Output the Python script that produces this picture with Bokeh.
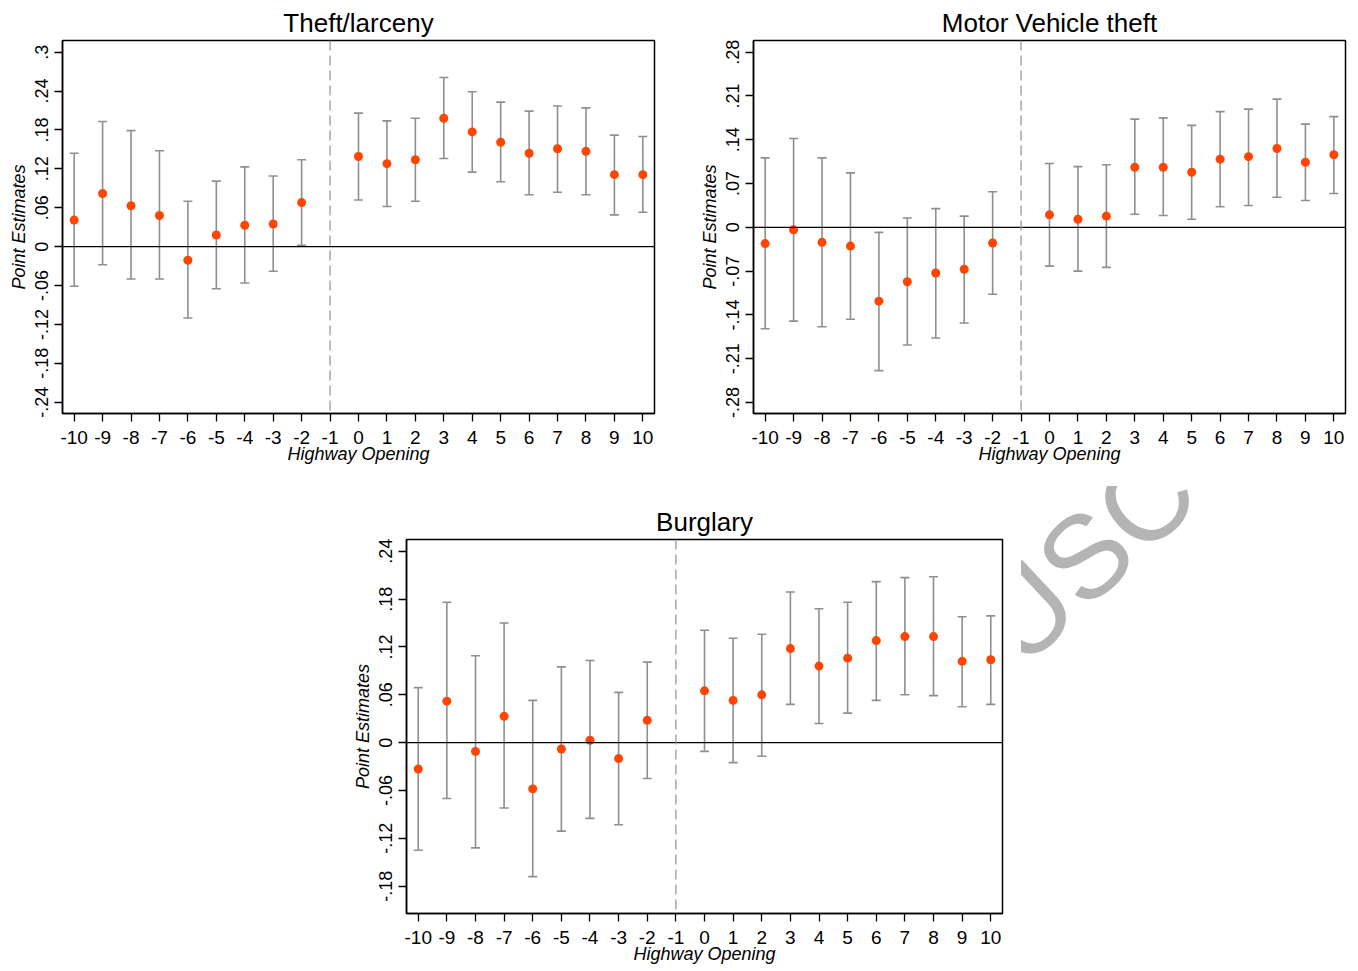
from bokeh.plotting import figure
from bokeh.models import ColumnDataSource, Whisker, TeeHead, Span, FixedTicker, Range1d, Title, Spacer, Div
from bokeh.layouts import column, row
from bokeh.embed import file_html
from bokeh.resources import INLINE

event_time = [-10, -9, -8, -7, -6, -5, -4, -3, -2, 0, 1, 2, 3, 4, 5, 6, 7, 8, 9, 10]
x_ticks = [-10, -9, -8, -7, -6, -5, -4, -3, -2, -1, 0, 1, 2, 3, 4, 5, 6, 7, 8, 9, 10]
x_labels = ["-10", "-9", "-8", "-7", "-6", "-5", "-4", "-3", "-2", "-1", "0",
            "1", "2", "3", "4", "5", "6", "7", "8", "9", "10"]

theft_est = [0.041, 0.082, 0.063, 0.048, -0.021, 0.018, 0.033, 0.035, 0.068, 0.139,
             0.128, 0.134, 0.198, 0.177, 0.161, 0.144, 0.151, 0.147, 0.111, 0.111]
theft_hi = [0.144, 0.193, 0.179, 0.148, 0.070, 0.101, 0.123, 0.109, 0.134, 0.206,
            0.194, 0.198, 0.261, 0.239, 0.223, 0.209, 0.217, 0.214, 0.172, 0.170]
theft_lo = [-0.061, -0.028, -0.050, -0.050, -0.110, -0.065, -0.056, -0.038, 0.002, 0.072,
            0.062, 0.070, 0.136, 0.115, 0.100, 0.080, 0.084, 0.080, 0.049, 0.053]
theft_yticks = [-0.24, -0.18, -0.12, -0.06, 0, 0.06, 0.12, 0.18, 0.24, 0.3]
theft_ylabels = ["-.24", "-.18", "-.12", "-.06", "0", ".06", ".12", ".18", ".24", ".3"]

mv_est = [-0.026, -0.004, -0.024, -0.030, -0.118, -0.087, -0.073, -0.067, -0.025, 0.020,
          0.013, 0.018, 0.096, 0.096, 0.088, 0.109, 0.113, 0.126, 0.104, 0.116]
mv_hi = [0.111, 0.142, 0.111, 0.087, -0.008, 0.015, 0.030, 0.018, 0.057, 0.102,
         0.097, 0.100, 0.173, 0.175, 0.163, 0.185, 0.189, 0.205, 0.165, 0.177]
mv_lo = [-0.162, -0.150, -0.159, -0.147, -0.229, -0.188, -0.177, -0.153, -0.107, -0.062,
         -0.070, -0.064, 0.021, 0.019, 0.013, 0.033, 0.035, 0.048, 0.043, 0.054]
mv_yticks = [-0.28, -0.21, -0.14, -0.07, 0, 0.07, 0.14, 0.21, 0.28]
mv_ylabels = ["-.28", "-.21", "-.14", "-.07", "0", ".07", ".14", ".21", ".28"]

burg_est = [-0.033, 0.052, -0.011, 0.033, -0.058, -0.008, 0.003, -0.020, 0.028, 0.065,
            0.053, 0.060, 0.118, 0.096, 0.106, 0.128, 0.133, 0.133, 0.102, 0.104]
burg_hi = [0.069, 0.176, 0.109, 0.150, 0.053, 0.095, 0.103, 0.063, 0.101, 0.141,
           0.131, 0.136, 0.189, 0.168, 0.176, 0.202, 0.207, 0.208, 0.158, 0.159]
burg_lo = [-0.135, -0.070, -0.132, -0.082, -0.168, -0.111, -0.095, -0.103, -0.045, -0.011,
           -0.025, -0.017, 0.048, 0.024, 0.037, 0.053, 0.060, 0.059, 0.045, 0.048]
burg_yticks = [-0.18, -0.12, -0.06, 0, 0.06, 0.12, 0.18, 0.24]
burg_ylabels = ["-.18", "-.12", "-.06", "0", ".06", ".12", ".18", ".24"]

watermark_text = "USC"

FONT = "Liberation Sans"
BAR = "#8f8f8f"
DOT = "#ff4500"


def make_panel(title, est, lo, hi, yticks, ylabels, yr, width, height, bl, br, bt, bb):
    p = figure(width=width, height=height, x_range=Range1d(-10.41, 10.41),
               y_range=Range1d(yr[0], yr[1]), output_backend="svg",
               toolbar_location=None, min_border_left=bl, min_border_right=br,
               min_border_top=bt, min_border_bottom=bb)
    p.title = Title(text=title, align="center", text_font=FONT, text_font_size="26px",
                    text_font_style="normal", text_color="black", standoff=6)
    p.grid.visible = False
    p.outline_line_color = "black"
    p.outline_line_width = 1.5
    p.background_fill_color = "white"
    p.border_fill_color = "white"

    src = ColumnDataSource(dict(x=event_time, est=est, lo=lo, hi=hi))
    p.add_layout(Span(location=0, dimension="width", line_color="black", line_width=1.3))
    p.add_layout(Span(location=-1, dimension="height", line_color="#9a9a9a",
                      line_width=1.3, line_dash="10 5"))
    w = Whisker(source=src, base="x", upper="hi", lower="lo", dimension="height",
                line_color=BAR, line_width=1.6,
                upper_head=TeeHead(size=9, line_color=BAR, line_width=1.6),
                lower_head=TeeHead(size=9, line_color=BAR, line_width=1.6))
    p.add_layout(w)
    p.scatter("x", "est", source=src, size=9, fill_color=DOT, line_color=None)

    xa = p.xaxis[0]
    xa.ticker = FixedTicker(ticks=x_ticks)
    xa.major_label_overrides = {t: l for t, l in zip(x_ticks, x_labels)}
    xa.axis_label = "Highway Opening"
    ya = p.yaxis[0]
    ya.ticker = FixedTicker(ticks=yticks)
    ya.major_label_overrides = {t: l for t, l in zip(yticks, ylabels)}
    ya.axis_label = "Point Estimates"
    ya.major_label_orientation = "vertical"
    for a in (xa, ya):
        a.axis_line_color = "black"
        a.axis_line_width = 1.5
        a.major_tick_line_color = "black"
        a.major_tick_line_width = 1.3
        a.major_tick_in = 0
        a.major_tick_out = 8
        a.minor_tick_line_color = None
        a.major_label_text_font = FONT
        a.major_label_text_color = "black"
        a.axis_label_text_font = FONT
        a.axis_label_text_font_size = "18px"
        a.axis_label_text_font_style = "italic"
        a.axis_label_text_color = "black"
    xa.major_label_text_font_size = "19px"
    ya.major_label_text_font_size = "18px"
    xa.major_label_standoff = 9
    xa.axis_label_standoff = -3
    ya.major_label_standoff = 6
    ya.axis_label_standoff = 4
    return p


p1 = make_panel("Theft/larceny", theft_est, theft_lo, theft_hi, theft_yticks, theft_ylabels,
                (-0.2574, 0.318), 691, 486, 62, 37, 40, 73)
p2 = make_panel("Motor Vehicle theft", mv_est, mv_lo, mv_hi, mv_yticks, mv_ylabels,
                (-0.2976, 0.2987), 659, 486, 62, 5, 40, 73)
p3 = make_panel("Burglary", burg_est, burg_lo, burg_hi, burg_yticks, burg_ylabels,
                (-0.2143, 0.2548), 677, 480, 62, 19, 53, 52)

# clipped watermark fragment to the right of the Burglary panel
wm_html = (
    '<div style="position:relative;width:329px;height:480px;overflow:hidden;">'
    '<div style="position:absolute;left:64px;top:70px;'
    'transform:translate(-50%,-50%) rotate(-43deg);'
    "font-family:'Liberation Sans';font-size:118px;line-height:1;"
    'color:#b4b4b4;white-space:nowrap;">' + watermark_text + '</div></div>'
)
wm = Div(text=wm_html, width=329, height=480, styles={"overflow": "hidden", "margin": "0"})

layout = column(row(p1, p2), row(Spacer(width=344, height=480), p3, wm))
open("out.html", "w").write(file_html(layout, INLINE))
